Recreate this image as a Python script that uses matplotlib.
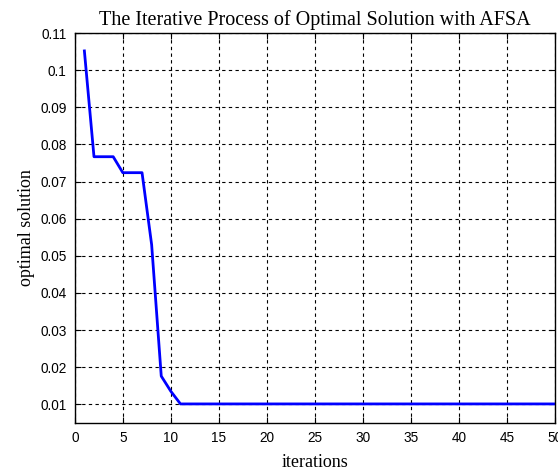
import matplotlib
matplotlib.use("Agg")
import matplotlib.pyplot as plt

iterations = list(range(1, 51))
values = [0.1052, 0.0767, 0.0767, 0.0767, 0.0724, 0.0724, 0.0724, 0.053, 0.0176, 0.0135,
          0.0101] + [0.0101] * 39
xticks = [0, 5, 10, 15, 20, 25, 30, 35, 40, 45, 50]
yticks = [0.01, 0.02, 0.03, 0.04, 0.05, 0.06, 0.07, 0.08, 0.09, 0.1, 0.11]
ytick_labels = ["0.01", "0.02", "0.03", "0.04", "0.05", "0.06", "0.07", "0.08", "0.09", "0.1", "0.11"]

fig = plt.figure(figsize=(5.58, 4.73), dpi=100)
ax = fig.add_axes([0.134, 0.106, 0.861, 0.824])
ax.plot(iterations, values, color="#0000ff", linewidth=2)
ax.set_xlim(0, 50)
ax.set_ylim(0.005, 0.11)
ax.set_xticks(xticks)
ax.set_yticks(yticks)
ax.set_yticklabels(ytick_labels)
ax.grid(True, color="black", linestyle=(0, (3, 3)), linewidth=0.8)
ax.tick_params(direction="in", length=4, labelsize=9.8, top=True, right=True, pad=6)
for lab in ax.get_xticklabels() + ax.get_yticklabels():
    lab.set_fontfamily("Liberation Sans")
for s in ax.spines.values():
    s.set_linewidth(1)
ax.set_xlabel("iterations", fontsize=13, fontfamily="Liberation Serif", labelpad=6)
ax.set_ylabel("optimal solution", fontsize=13, fontfamily="Liberation Serif", labelpad=4)
ax.set_title("The Iterative Process of Optimal Solution with AFSA", fontsize=14.5,
             fontfamily="Liberation Serif", pad=6)
fig.savefig("out.png", dpi=100)
